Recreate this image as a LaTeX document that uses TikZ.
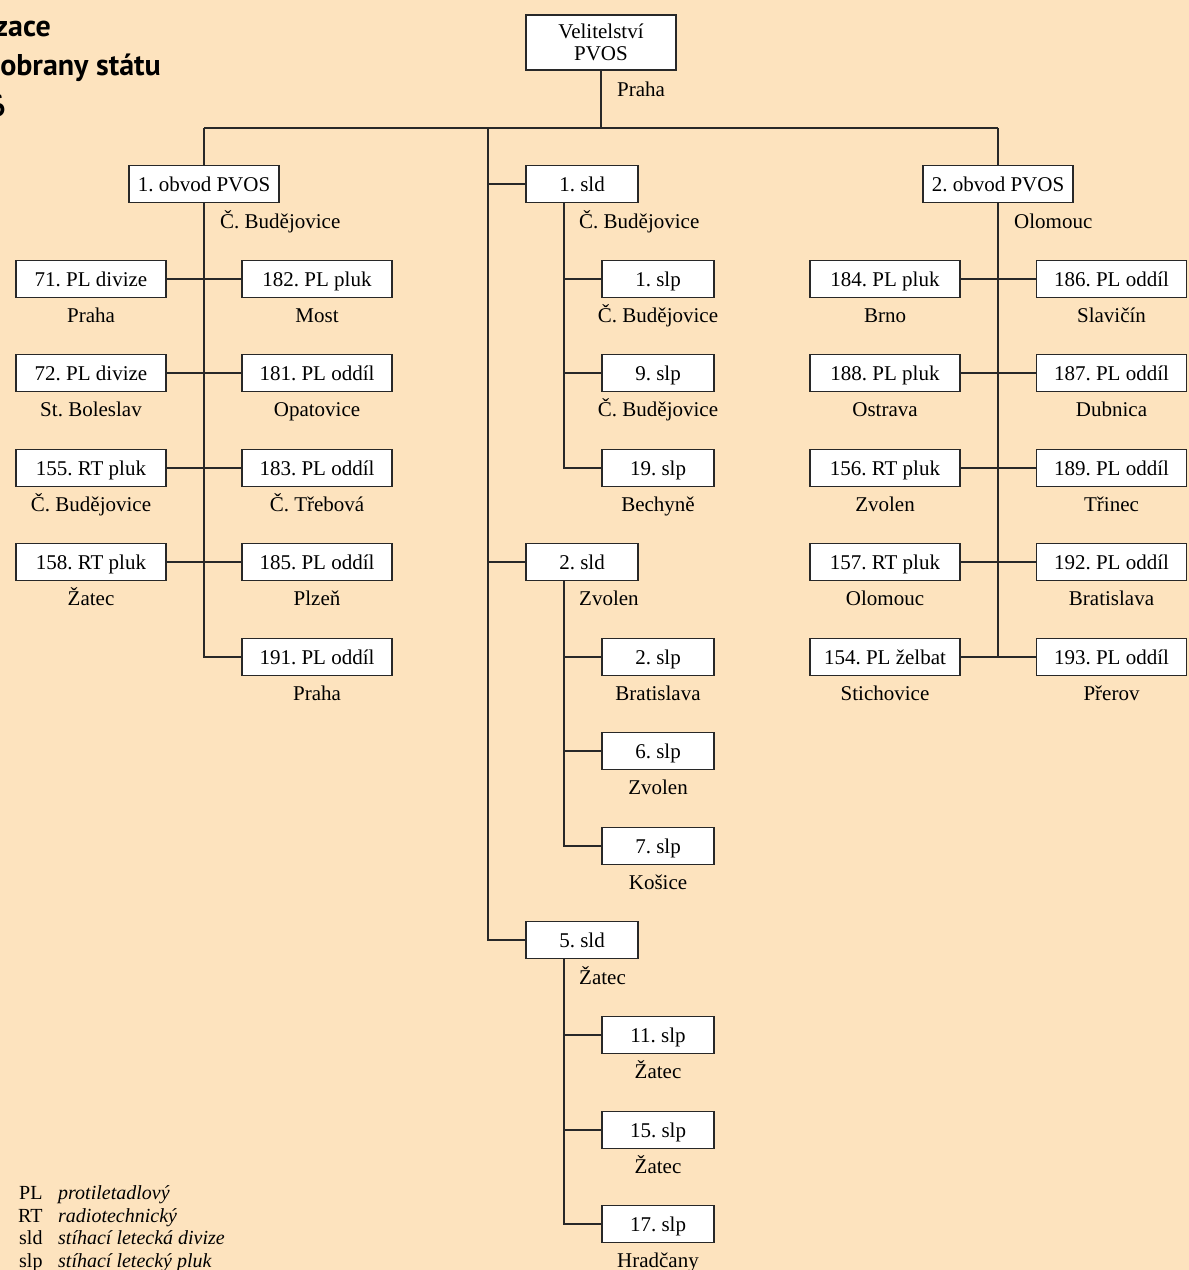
\documentclass[tikz,border=0pt]{standalone}
\usepackage{fontspec}
\setmainfont{Liberation Serif}
\newfontfamily\titlefont{PT Sans}
\definecolor{bg}{RGB}{253,227,190}
\definecolor{linec}{RGB}{40,40,40}
\frenchspacing
\begin{document}
\begin{tikzpicture}[x=1pt,y=-1pt,
  every node/.style={font=\fontsize{21}{22}\selectfont, inner sep=0pt, text height=14pt, text depth=0pt},
  wbox/.style={draw=linec, fill=white, line width=1.3pt, minimum width=150pt, minimum height=37pt},
  sbox/.style={wbox, minimum width=112pt},
  lbl/.style={anchor=center},
  hang/.style={anchor=west},
  conn/.style={draw=linec, line width=1.4pt},
  ttl/.style={anchor=east, text height=, text depth=, font=\titlefont\bfseries\fontsize{30}{34}\selectfont},
  leg/.style={anchor=base west, text height=, text depth=, font=\fontsize{20}{22}\selectfont},
  legi/.style={leg, font=\fontsize{20}{22}\selectfont\itshape}]
\fill[bg] (0,0) rectangle (1189,1270);
\useasboundingbox (0,0) rectangle (1189,1270);
\begin{scope}
\clip (0,0) rectangle (1189,1270);
% title
\node[ttl] (t1) at (51,29) {zace};
\node[ttl] (t2) at (161,68) {obrany státu};
\node[ttl] (t3) at (6,106) {6};
% top
\node[wbox, minimum height=55pt, align=center, text height=, text depth=, font=\fontsize{21}{22}\selectfont] (top) at (601,42.5) {Velitelství\\PVOS};
\node[hang] (topl) at (617,89) {Praha};
\coordinate (hc) at (601,128);
\coordinate (hl) at (204,128);
\coordinate (hm) at (488,128);
\coordinate (hr) at (998,128);
% obvod 1
\node[wbox] (o1) at (204,184) {1. obvod PVOS};
\node[hang] (o1l) at (220,221) {Č. Budějovice};
\foreach \n/\t/\l/\y in {a1/71. PL divize/Praha/279, a2/72. PL divize/St. Boleslav/373, a3/155. RT pluk/Č. Budějovice/468, a4/158. RT pluk/Žatec/562}{
  \node[wbox] (\n) at (91,\y) {\t};
  \node[lbl] (\n l) at (91,\y+36) {\l};
}
\foreach \n/\t/\l/\y in {b1/182. PL pluk/Most/279, b2/181. PL oddíl/Opatovice/373, b3/183. PL oddíl/Č. Třebová/468, b4/185. PL oddíl/Plzeň/562, b5/191. PL oddíl/Praha/657}{
  \node[wbox] (\n) at (317,\y) {\t};
  \node[lbl] (\n l) at (317,\y+36) {\l};
}
% obvod 2
\node[wbox] (o2) at (998,184) {2. obvod PVOS};
\node[hang] (o2l) at (1014,221) {Olomouc};
\foreach \n/\t/\l/\y in {c1/184. PL pluk/Brno/279, c2/188. PL pluk/Ostrava/373, c3/156. RT pluk/Zvolen/468, c4/157. RT pluk/Olomouc/562, c5/154. PL želbat/Stichovice/657}{
  \node[wbox] (\n) at (885,\y) {\t};
  \node[lbl] (\n l) at (885,\y+36) {\l};
}
\foreach \n/\t/\l/\y in {d1/186. PL oddíl/Slavičín/279, d2/187. PL oddíl/Dubnica/373, d3/189. PL oddíl/Třinec/468, d4/192. PL oddíl/Bratislava/562, d5/193. PL oddíl/Přerov/657}{
  \node[wbox] (\n) at (1111.5,\y) {\t};
  \node[lbl] (\n l) at (1111.5,\y+36) {\l};
}
% sld
\node[sbox] (s1) at (582,184) {1. sld};
\node[hang] (s1l) at (579,221) {Č. Budějovice};
\node[sbox] (s2) at (582,562) {2. sld};
\node[hang] (s2l) at (579,598) {Zvolen};
\node[sbox] (s5) at (582,940) {5. sld};
\node[hang] (s5l) at (579,977) {Žatec};
\foreach \n/\t/\l/\y in {p1/1. slp/Č. Budějovice/279, p9/9. slp/Č. Budějovice/373, p19/19. slp/Bechyně/468, p2/2. slp/Bratislava/657, p6/6. slp/Zvolen/751, p7/7. slp/Košice/846, p11/11. slp/Žatec/1035, p15/15. slp/Žatec/1130, p17/17. slp/Hradčany/1224}{
  \node[sbox] (\n) at (658,\y) {\t};
  \node[lbl] (\n l) at (658,\y+36) {\l};
}
% connectors
\draw[conn] (top.south) -- (hc);
\draw[conn] (hl) -- (hr);
\draw[conn] (hl) -- (o1.north);
\draw[conn] (hr) -- (o2.north);
\draw[conn] (o1.south) |- (b5.west);
\foreach \i in {1,2,3,4}{ \draw[conn] (a\i.east) -- (b\i.west); }
\draw[conn] (o2.south) -- (o2.south |- c5.east);
\foreach \i in {1,...,5}{ \draw[conn] (c\i.east) -- (d\i.west); }
\draw[conn] (hm) |- (s5.west);
\draw[conn] (hm |- s1.west) -- (s1.west);
\draw[conn] (hm |- s2.west) -- (s2.west);
\coordinate (v1) at ([xshift=-18pt]s1.south);
\coordinate (v2) at ([xshift=-18pt]s2.south);
\coordinate (v5) at ([xshift=-18pt]s5.south);
\draw[conn] (v1) |- (p19.west);
\draw[conn] (v1 |- p1.west) -- (p1.west);
\draw[conn] (v1 |- p9.west) -- (p9.west);
\draw[conn] (v2) |- (p7.west);
\draw[conn] (v2 |- p2.west) -- (p2.west);
\draw[conn] (v2 |- p6.west) -- (p6.west);
\draw[conn] (v5) |- (p17.west);
\draw[conn] (v5 |- p11.west) -- (p11.west);
\draw[conn] (v5 |- p15.west) -- (p15.west);
% legend
\node[leg] (g1) at (19,1199) {PL};
\node[legi] (g1i) at (58,1199) {protiletadlový};
\node[leg] (g2) at (18,1222) {RT};
\node[legi] (g2i) at (58,1222) {radiotechnický};
\node[leg] (g3) at (19,1244.5) {sld};
\node[legi] (g3i) at (58,1244.5) {stíhací letecká divize};
\node[leg] (g4) at (19,1267) {slp};
\node[legi] (g4i) at (58,1267) {stíhací letecký pluk};
\end{scope}
\end{tikzpicture}
\end{document}
